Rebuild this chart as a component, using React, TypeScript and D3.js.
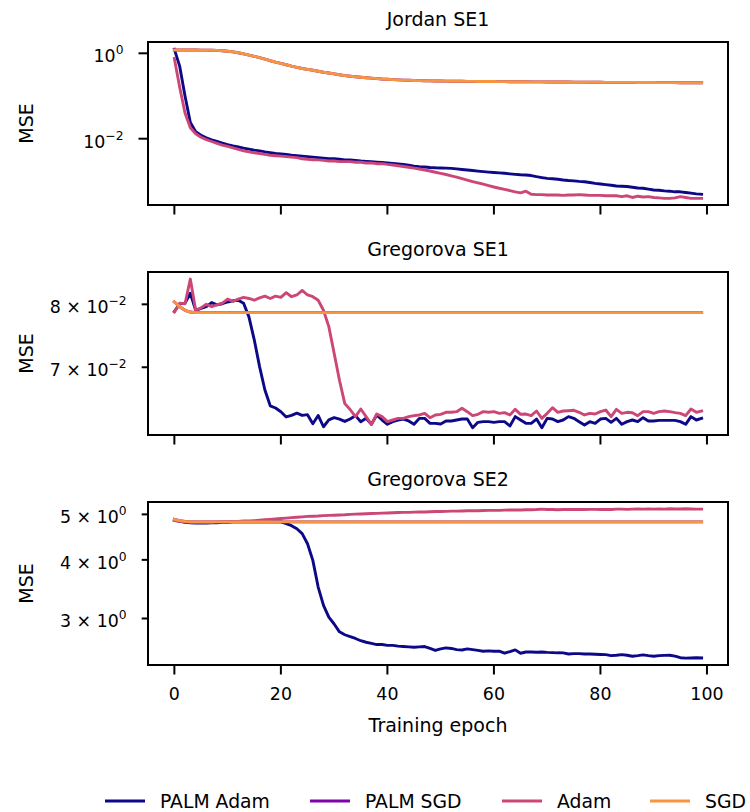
import React from "react";
import * as d3 from "d3";

// ---------------- data ----------------
const seriesNames = ["PALM Adam", "PALM SGD", "Adam", "SGD"];
const xTicks = [0, 20, 40, 60, 80, 100];

// Jordan SE1
const jordanPalmAdam = [
  1.24, 0.50, 0.10, 0.024, 0.0145, 0.0120, 0.0105, 0.0094, 0.0086, 0.0079,
  0.0073, 0.0068, 0.0064, 0.0060, 0.0057, 0.0054, 0.0052, 0.0049, 0.0047, 0.0045,
  0.0044, 0.0043, 0.0041, 0.0040, 0.0039, 0.0038, 0.0037, 0.0036, 0.0035, 0.0034,
  0.0034, 0.0033, 0.0032, 0.00317, 0.0031, 0.0030, 0.00295, 0.0029, 0.00283, 0.00277,
  0.00272, 0.00265, 0.00258, 0.00250, 0.00240, 0.00228, 0.00222, 0.00218, 0.00212, 0.00208,
  0.00206, 0.00205, 0.00202, 0.00196, 0.00190, 0.00185, 0.00180, 0.00174, 0.00169, 0.00165,
  0.00162, 0.00158, 0.00155, 0.00150, 0.00146, 0.00143, 0.00141, 0.00137, 0.00129, 0.00123,
  0.00118, 0.00115, 0.00112, 0.00108, 0.00105, 0.00103, 0.00100, 0.00098, 0.00094, 0.00090,
  0.00087, 0.00084, 0.00081, 0.00078, 0.00077, 0.00076, 0.00073, 0.00070, 0.00069, 0.00066,
  0.00063, 0.00062, 0.00060, 0.00059, 0.00057, 0.00057, 0.00055, 0.00053, 0.00051, 0.00050,
];
const jordanSgd = [
  1.20, 1.20, 1.20, 1.20, 1.20, 1.19, 1.19, 1.18, 1.17, 1.15,
  1.12, 1.08, 1.03, 0.97, 0.91, 0.85, 0.79, 0.73, 0.67, 0.62,
  0.58, 0.54, 0.50, 0.47, 0.44, 0.42, 0.40, 0.38, 0.36, 0.345,
  0.33, 0.315, 0.30, 0.29, 0.282, 0.275, 0.268, 0.262, 0.256, 0.250,
  0.246, 0.242, 0.239, 0.236, 0.233, 0.231, 0.229, 0.227, 0.226, 0.225,
  0.224, 0.223, 0.222, 0.222, 0.221, 0.220, 0.220, 0.219, 0.219, 0.218,
  0.218, 0.217, 0.217, 0.216, 0.216, 0.215, 0.215, 0.214, 0.214, 0.214,
  0.213, 0.213, 0.212, 0.212, 0.212, 0.211, 0.211, 0.211, 0.210, 0.210,
  0.210, 0.209, 0.209, 0.209, 0.208, 0.208, 0.208, 0.207, 0.207, 0.207,
  0.207, 0.206, 0.206, 0.206, 0.206, 0.205, 0.205, 0.205, 0.205, 0.204,
];
const jordanPalmSgd = jordanSgd; // drawn underneath SGD, indistinguishable
const jordanAdam = [
  0.76, 0.16, 0.040, 0.018, 0.0130, 0.0108, 0.0095, 0.0086, 0.0078, 0.0071,
  0.0066, 0.0061, 0.0056, 0.0052, 0.0049, 0.0047, 0.0045, 0.0043, 0.0041, 0.0040,
  0.0039, 0.0038, 0.0037, 0.0036, 0.0034, 0.0033, 0.0032, 0.0032, 0.0031, 0.0030,
  0.0030, 0.0029, 0.0029, 0.0029, 0.0028, 0.0028, 0.0027, 0.0027, 0.0026, 0.0026,
  0.00250, 0.00242, 0.00233, 0.00224, 0.00214, 0.00204, 0.00195, 0.00185, 0.00175, 0.00164,
  0.00154, 0.00145, 0.00135, 0.00126, 0.00116, 0.00107, 0.00099, 0.00092, 0.00086, 0.00080,
  0.00074, 0.00069, 0.00065, 0.00061, 0.00057, 0.00054, 0.00059, 0.00050, 0.00049, 0.00049,
  0.00048, 0.00048, 0.00048, 0.00047, 0.00048, 0.00048, 0.00049, 0.00048, 0.00047, 0.00047,
  0.00047, 0.00046, 0.00046, 0.00046, 0.00044, 0.00046, 0.00042, 0.00045, 0.00043, 0.00044,
  0.00042, 0.00041, 0.00040, 0.00040, 0.00041, 0.00044, 0.00042, 0.00040, 0.00040, 0.00040,
];

// Gregorova SE1
const greg1PalmAdam = [
  0.0788, 0.0801, 0.0802, 0.0819, 0.0790, 0.0793, 0.0796, 0.0803, 0.0799, 0.0801,
  0.0804, 0.0806, 0.0807, 0.0802, 0.0779, 0.0742, 0.0701, 0.0667, 0.0645, 0.0642,
  0.0637, 0.0630, 0.0632, 0.0635, 0.0632, 0.0633, 0.0621, 0.0632, 0.0617, 0.0626,
  0.0629, 0.0627, 0.0624, 0.06272, 0.06317, 0.06237, 0.06281, 0.06202, 0.06326, 0.06259,
  0.06202, 0.06237, 0.06259, 0.06272, 0.06246, 0.06202, 0.06281, 0.06281, 0.06215, 0.06215,
  0.06206, 0.06246, 0.06246, 0.06259, 0.06272, 0.06272, 0.06158, 0.06228, 0.06237, 0.06237,
  0.06228, 0.06237, 0.06237, 0.06180, 0.06304, 0.06259, 0.06215, 0.06215, 0.06272, 0.06158,
  0.06281, 0.06272, 0.06237, 0.06259, 0.06304, 0.06281, 0.06237, 0.06193, 0.06237, 0.06215,
  0.06272, 0.06281, 0.06228, 0.06281, 0.06202, 0.06237, 0.06259, 0.06237, 0.06290, 0.06246,
  0.06246, 0.06254, 0.06254, 0.06254, 0.06254, 0.06237, 0.06202, 0.06304, 0.06259, 0.06281,
];
const greg1Sgd = [
  0.0804, 0.0796, 0.0790, 0.0787, 0.0786, 0.0786, 0.0786, 0.0786, 0.0786, 0.0786,
  0.0786, 0.0786, 0.0786, 0.0786, 0.0786, 0.0786, 0.0786, 0.0786, 0.0786, 0.0786,
  0.0786, 0.0786, 0.0786, 0.0786, 0.0786, 0.0786, 0.0786, 0.0786, 0.0786, 0.0786,
  0.0786, 0.0786, 0.0786, 0.0786, 0.0786, 0.0786, 0.0786, 0.0786, 0.0786, 0.0786,
  0.0786, 0.0786, 0.0786, 0.0786, 0.0786, 0.0786, 0.0786, 0.0786, 0.0786, 0.0786,
  0.0786, 0.0786, 0.0786, 0.0786, 0.0786, 0.0786, 0.0786, 0.0786, 0.0786, 0.0786,
  0.0786, 0.0786, 0.0786, 0.0786, 0.0786, 0.0786, 0.0786, 0.0786, 0.0786, 0.0786,
  0.0786, 0.0786, 0.0786, 0.0786, 0.0786, 0.0786, 0.0786, 0.0786, 0.0786, 0.0786,
  0.0786, 0.0786, 0.0786, 0.0786, 0.0786, 0.0786, 0.0786, 0.0786, 0.0786, 0.0786,
  0.0786, 0.0786, 0.0786, 0.0786, 0.0786, 0.0786, 0.0786, 0.0786, 0.0786, 0.0786,
];
const greg1PalmSgd = greg1Sgd;
const greg1Adam = [
  0.0787, 0.0802, 0.0801, 0.0844, 0.0790, 0.0794, 0.0800, 0.0796, 0.0799, 0.0802,
  0.0809, 0.0805, 0.0809, 0.0812, 0.0810, 0.0807, 0.0811, 0.0814, 0.0810, 0.0814,
  0.0812, 0.0820, 0.0813, 0.0816, 0.0824, 0.0816, 0.0813, 0.0807, 0.0790, 0.0763,
  0.0721, 0.0681, 0.0648, 0.0640, 0.06304, 0.06407, 0.06304, 0.06202, 0.06339, 0.06304,
  0.06237, 0.06259, 0.06281, 0.06281, 0.06304, 0.06317, 0.06326, 0.06348, 0.06290, 0.06326,
  0.06335, 0.06362, 0.06362, 0.06371, 0.06416, 0.06371, 0.06317, 0.06335, 0.06371, 0.06362,
  0.06371, 0.06348, 0.06357, 0.06326, 0.06402, 0.06335, 0.06339, 0.06317, 0.06380, 0.06281,
  0.06348, 0.06425, 0.06362, 0.06380, 0.06384, 0.06389, 0.06362, 0.06326, 0.06348, 0.06339,
  0.06371, 0.06393, 0.06304, 0.06402, 0.06348, 0.06362, 0.06357, 0.06317, 0.06371, 0.06371,
  0.06348, 0.06371, 0.06380, 0.06371, 0.06357, 0.06348, 0.06317, 0.06407, 0.06362, 0.06380,
];

// Gregorova SE2
const greg2PalmAdam = [
  4.86, 4.83, 4.81, 4.80, 4.79, 4.79, 4.79, 4.80, 4.80, 4.81,
  4.81, 4.82, 4.82, 4.82, 4.82, 4.82, 4.82, 4.82, 4.82, 4.82,
  4.82, 4.78, 4.73, 4.66, 4.55, 4.33, 3.99, 3.50, 3.20, 3.02,
  2.92, 2.81, 2.77, 2.745, 2.72, 2.69, 2.67, 2.655, 2.64, 2.64,
  2.63, 2.63, 2.62, 2.615, 2.61, 2.605, 2.61, 2.614, 2.59, 2.565,
  2.585, 2.597, 2.59, 2.575, 2.57, 2.584, 2.575, 2.565, 2.555, 2.56,
  2.555, 2.555, 2.53, 2.55, 2.572, 2.53, 2.545, 2.545, 2.542, 2.545,
  2.54, 2.538, 2.535, 2.534, 2.521, 2.525, 2.525, 2.521, 2.521, 2.518,
  2.515, 2.513, 2.501, 2.505, 2.513, 2.505, 2.493, 2.50, 2.509, 2.50,
  2.493, 2.50, 2.503, 2.505, 2.495, 2.475, 2.47, 2.472, 2.475, 2.472,
];
const greg2Sgd = [
  4.88, 4.85, 4.83, 4.82, 4.82, 4.82, 4.82, 4.82, 4.82, 4.82,
  4.82, 4.82, 4.82, 4.82, 4.82, 4.82, 4.82, 4.82, 4.82, 4.82,
  4.82, 4.82, 4.82, 4.82, 4.82, 4.82, 4.82, 4.82, 4.82, 4.82,
  4.82, 4.82, 4.82, 4.82, 4.82, 4.82, 4.82, 4.82, 4.82, 4.82,
  4.82, 4.82, 4.82, 4.82, 4.82, 4.82, 4.82, 4.82, 4.82, 4.82,
  4.82, 4.82, 4.82, 4.82, 4.82, 4.82, 4.82, 4.82, 4.82, 4.82,
  4.82, 4.82, 4.82, 4.82, 4.82, 4.82, 4.82, 4.82, 4.82, 4.82,
  4.82, 4.82, 4.82, 4.82, 4.82, 4.82, 4.82, 4.82, 4.82, 4.82,
  4.82, 4.82, 4.82, 4.82, 4.82, 4.82, 4.82, 4.82, 4.82, 4.82,
  4.82, 4.82, 4.82, 4.82, 4.82, 4.82, 4.82, 4.82, 4.82, 4.82,
];
const greg2PalmSgd = greg2Sgd;
const greg2Adam = [
  4.85, 4.83, 4.82, 4.81, 4.81, 4.81, 4.81, 4.81, 4.82, 4.82,
  4.82, 4.83, 4.83, 4.84, 4.84, 4.85, 4.86, 4.87, 4.88, 4.89,
  4.90, 4.91, 4.92, 4.93, 4.94, 4.95, 4.955, 4.96, 4.97, 4.975,
  4.98, 4.985, 4.99, 5.00, 5.005, 5.01, 5.015, 5.02, 5.025, 5.03,
  5.035, 5.04, 5.045, 5.05, 5.05, 5.055, 5.06, 5.06, 5.065, 5.07,
  5.07, 5.075, 5.08, 5.08, 5.085, 5.09, 5.09, 5.09, 5.095, 5.10,
  5.10, 5.10, 5.105, 5.11, 5.11, 5.11, 5.115, 5.115, 5.12, 5.13,
  5.12, 5.12, 5.115, 5.12, 5.12, 5.125, 5.12, 5.12, 5.125, 5.125,
  5.12, 5.125, 5.12, 5.13, 5.13, 5.125, 5.13, 5.135, 5.13, 5.135,
  5.13, 5.135, 5.13, 5.14, 5.135, 5.135, 5.14, 5.135, 5.13, 5.13,
];

// y-axis ticks: value, mantissa label, exponent label
const jordanTicks = [
  { v: 1, m: "", e: "0" },
  { v: 0.01, m: "", e: "\u22122" },
];
const greg1Ticks = [
  { v: 0.08, m: "8", e: "\u22122" },
  { v: 0.07, m: "7", e: "\u22122" },
];
const greg2Ticks = [
  { v: 5, m: "5", e: "0" },
  { v: 4, m: "4", e: "0" },
  { v: 3, m: "3", e: "0" },
];

// axis limits
const jordanDomain = [2.8e-4, 1.84];
const greg1Domain = [0.06063, 0.08568];
const greg2Domain = [2.388, 5.313];
const xDomain = [-4.95, 103.95];

const panels = [
  { title: "Jordan SE1", domain: jordanDomain, ticks: jordanTicks, minor: false,
    series: [jordanPalmAdam, jordanPalmSgd, jordanAdam, jordanSgd] },
  { title: "Gregorova SE1", domain: greg1Domain, ticks: greg1Ticks, minor: true,
    series: [greg1PalmAdam, greg1PalmSgd, greg1Adam, greg1Sgd] },
  { title: "Gregorova SE2", domain: greg2Domain, ticks: greg2Ticks, minor: true,
    series: [greg2PalmAdam, greg2PalmSgd, greg2Adam, greg2Sgd] },
];

// ---------------- layout ----------------
const W = 750;
const H = 812;
const LEFT = 148;
const RIGHT = 728;
const TOPS = [42, 272, 502];
const PH = 163;
const FONT = "DejaVu Sans, sans-serif";
const TICK_FS = 17.4;
const LABEL_FS = 19;
const LEGEND_FS = 18.8;
const colors = [0, 0.25, 0.5, 0.75].map((t) => d3.interpolatePlasma(t));
const legendX = [105, 310, 502, 650];

export default function App() {
  const x = d3.scaleLinear().domain(xDomain).range([LEFT, RIGHT]);
  return (
    <svg
      width={W}
      height={H}
      viewBox={`0 0 ${W} ${H}`}
      style={{ position: "absolute", left: 0, top: 0, display: "block", background: "#fff" }}
      fontFamily={FONT}
    >
      <rect x={0} y={0} width={W} height={H} fill="#fff" />
      {panels.map((p, pi) => {
        const top = TOPS[pi];
        const bottom = top + PH;
        const y = d3.scaleLog().domain(p.domain).range([bottom, top]);
        const line = d3
          .line<number>()
          .x((_, i) => x(i))
          .y((v) => y(v));
        const tickLen = p.minor ? 6.3 : 9.5;
        const labelRight = LEFT - tickLen - 15;
        return (
          <g key={pi}>
            <text
              x={(LEFT + RIGHT) / 2}
              y={top - 16}
              textAnchor="middle"
              fontSize={LABEL_FS}
              fill="#000"
            >
              {p.title}
            </text>
            <g>
              {p.series.map((s, si) => (
                <path
                  key={si}
                  d={line(s) || ""}
                  fill="none"
                  stroke={colors[si]}
                  strokeWidth={2.9}
                  strokeLinejoin="round"
                  strokeLinecap="square"
                />
              ))}
            </g>
            <rect
              x={LEFT}
              y={top}
              width={RIGHT - LEFT}
              height={PH}
              fill="none"
              stroke="#000"
              strokeWidth={2}
            />
            {p.ticks.map((t, ti) => (
              <g key={ti}>
                <line
                  x1={LEFT - tickLen}
                  x2={LEFT}
                  y1={y(t.v)}
                  y2={y(t.v)}
                  stroke="#000"
                  strokeWidth={2}
                />
                <text
                  x={labelRight}
                  y={y(t.v) + 9}
                  textAnchor="end"
                  fontSize={TICK_FS}
                  fill="#000"
                >
                  {t.m ? `${t.m} \u00d7 10` : "10"}
                  <tspan dy={-8} fontSize={12.3}>
                    {t.e}
                  </tspan>
                </text>
              </g>
            ))}
            {xTicks.map((t) => (
              <line
                key={t}
                x1={x(t)}
                x2={x(t)}
                y1={bottom}
                y2={bottom + 9.5}
                stroke="#000"
                strokeWidth={2}
              />
            ))}
            {pi === panels.length - 1 &&
              xTicks.map((t) => (
                <text
                  key={"l" + t}
                  x={x(t)}
                  y={bottom + 35}
                  textAnchor="middle"
                  fontSize={TICK_FS}
                  fill="#000"
                >
                  {t}
                </text>
              ))}
            <text
              transform={`translate(32.5, ${(top + bottom) / 2}) rotate(-90)`}
              textAnchor="middle"
              fontSize={LABEL_FS}
              fill="#000"
            >
              MSE
            </text>
          </g>
        );
      })}
      <text
        x={(LEFT + RIGHT) / 2}
        y={732}
        textAnchor="middle"
        fontSize={LABEL_FS}
        fill="#000"
      >
        Training epoch
      </text>
      {seriesNames.map((n, i) => (
        <g key={n}>
          <line
            x1={legendX[i]}
            x2={legendX[i] + 40}
            y1={801}
            y2={801}
            stroke={colors[i]}
            strokeWidth={2.9}
          />
          <text x={legendX[i] + 55} y={808} fontSize={LEGEND_FS} fill="#000">
            {n}
          </text>
        </g>
      ))}
    </svg>
  );
}
